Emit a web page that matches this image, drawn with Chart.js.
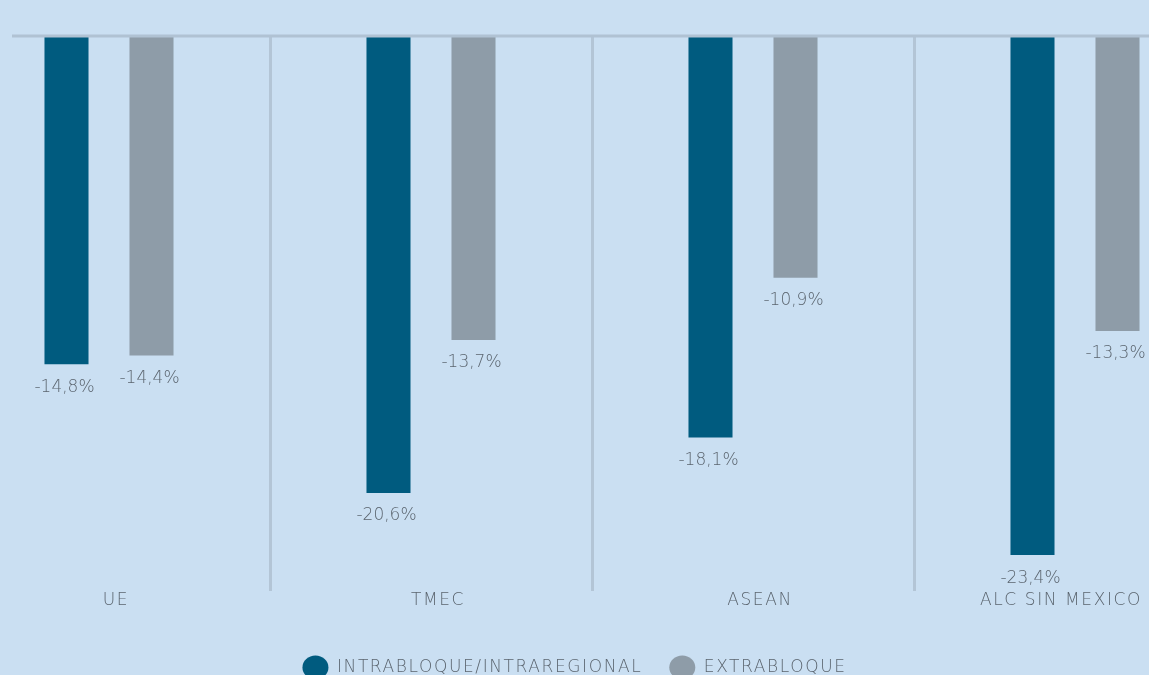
<!DOCTYPE html>
<html>
<head>
<meta charset="utf-8">
<script src="https://cdn.jsdelivr.net/npm/chart.js@4"></script>
<style>
  html, body { margin: 0; padding: 0; background: #cadff2; overflow: hidden; width: 1149px; height: 675px; }
  #wrap { position: absolute; left: -87px; top: 0; width: 1323px; height: 686px; }
</style>
</head>
<body>
<div id="wrap"><canvas id="chart" width="1323" height="686"></canvas></div>
<script>
const categories = ['UE', 'TMEC', 'ASEAN', 'ALC SIN MEXICO'];
const intrabloque = [-14.8, -20.6, -18.1, -23.4];
const extrabloque = [-14.4, -13.7, -10.9, -13.3];
const seriesNames = ['INTRABLOQUE/INTRAREGIONAL', 'EXTRABLOQUE'];

const textColor = '#5b656f';
const fontFamily = "'DejaVu Sans', sans-serif";

// spaced caps for axis and legend text
const spacing = {
  id: 'spacing',
  beforeLayout(chart) { chart.ctx.letterSpacing = '1.6px'; },
  beforeDraw(chart) { chart.ctx.letterSpacing = '1.6px'; }
};

// value labels under each bar
const valueLabels = {
  id: 'valueLabels',
  afterDatasetsDraw(chart) {
    const ctx = chart.ctx;
    ctx.save();
    ctx.letterSpacing = '0px';
    ctx.font = '200 17px ' + fontFamily;
    ctx.fillStyle = textColor;
    ctx.textAlign = 'center';
    ctx.textBaseline = 'middle';
    chart.data.datasets.forEach((ds, i) => {
      chart.getDatasetMeta(i).data.forEach((bar, j) => {
        const txt = ds.data[j].toFixed(1).replace('.', ',') + '%';
        ctx.fillText(txt, bar.x - 2, bar.y + 23);
      });
    });
    ctx.restore();
  }
};

// zero line across the top
const zeroLine = {
  id: 'zeroLine',
  afterDatasetsDraw(chart) {
    const ctx = chart.ctx;
    const y = chart.scales.y.getPixelForValue(0);
    ctx.save();
    ctx.strokeStyle = '#b0c2d3';
    ctx.lineWidth = 3;
    ctx.beginPath();
    ctx.moveTo(99, y);
    ctx.lineTo(chart.chartArea.right, y);
    ctx.stroke();
    ctx.restore();
  }
};

new Chart(document.getElementById('chart'), {
  type: 'bar',
  data: {
    labels: categories,
    datasets: [
      { label: seriesNames[0], data: intrabloque, backgroundColor: '#005b7f', barPercentage: 0.518, categoryPercentage: 0.528 },
      { label: seriesNames[1], data: extrabloque, backgroundColor: '#8e9ca8', barPercentage: 0.518, categoryPercentage: 0.528 }
    ]
  },
  options: {
    responsive: false,
    animation: false,
    layout: { padding: { top: 36, left: 0, right: 0, bottom: 0 } },
    scales: {
      x: {
        grid: { color: '#b3c5d6', lineWidth: 3, drawTicks: false, offset: true },
        border: { display: false },
        ticks: {
          color: textColor,
          font: { family: fontFamily, size: 17, weight: 200 },
          padding: 0,
          labelOffset: 7,
          maxRotation: 0,
          autoSkip: false,
          // last label is pulled left so it stays inside the page
          callback: (v, i) => i === categories.length - 1 ? categories[i] + '      ' : categories[i]
        },
        afterFit(scale) { scale.height += 21; }
      },
      // hidden axis, only keeps the legend centred on the page
      y: {
        min: -25, max: 0,
        grid: { display: false },
        border: { display: false },
        ticks: { display: false },
        afterFit(scale) { scale.width = 35; }
      }
    },
    plugins: {
      legend: {
        position: 'bottom',
        labels: {
          usePointStyle: true,
          pointStyle: 'circle',
          pointStyleWidth: 26,
          color: textColor,
          font: { family: fontFamily, size: 17, weight: 200 },
          padding: 27
        }
      },
      tooltip: { enabled: false }
    }
  },
  plugins: [spacing, valueLabels, zeroLine]
});
</script>
</body>
</html>
